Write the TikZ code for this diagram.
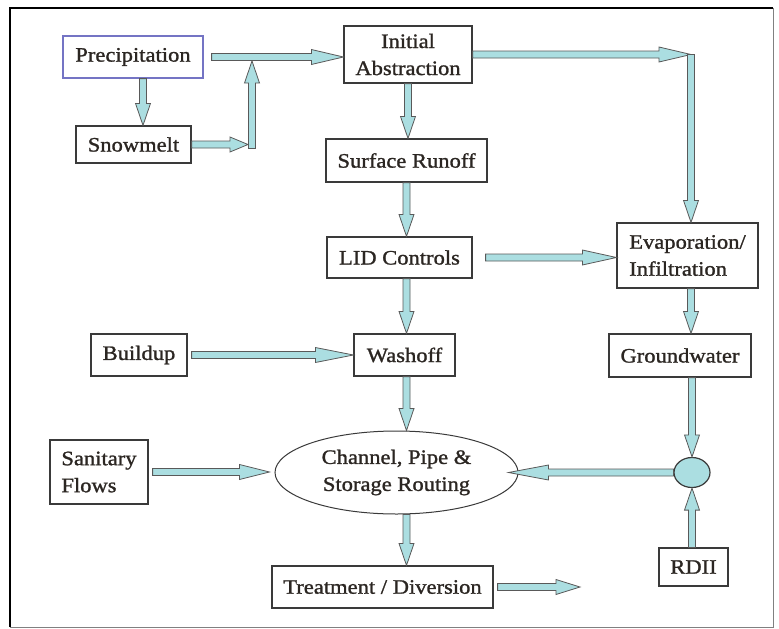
\documentclass[tikz,border=0pt]{standalone}
\usepackage{fontspec}
\setmainfont{Liberation Serif}[FakeStretch=1.1, FakeBold=1.2]
\usetikzlibrary{calc,shapes.geometric}
\definecolor{flowfill}{HTML}{ABDEE1}
\definecolor{edge}{HTML}{3A3A3A}
\definecolor{precblue}{HTML}{7474C4}
\definecolor{ink}{HTML}{2B2622}

\tikzset{
  box/.style={draw=edge, line width=1.2pt, fill=white, text=ink, inner sep=0pt,
    font=\fontsize{20.5}{27}\selectfont, align=center},
  flowline/.style={draw=black!65, line width=0.8pt, fill=flowfill},
}

% fat arrow from #2 to #3, head length #1
\newcommand{\flow}[3][22]{%
  \coordinate (fa) at (#2);
  \coordinate (fb) at (#3);
  \coordinate (fc) at ($(fb)!#1pt!(fa)$);
  \draw[flowline] ($(fa)!3.5pt!-90:(fb)$) -- ($(fc)!3.5pt!90:(fa)$) -- ($(fc)!7.5pt!90:(fa)$)
    -- (fb) -- ($(fc)!7.5pt!-90:(fa)$) -- ($(fc)!3.5pt!-90:(fa)$) -- ($(fa)!3.5pt!90:(fb)$) -- cycle;
}

\begin{document}
\begin{tikzpicture}[x=1pt, y=-1pt]
\useasboundingbox (0,0) rectangle (779,629);
% Frame
\draw[line width=2pt] (10,627) -- (10,8) -- (773,8);
\draw[line width=1pt, black!50] (773,8) -- (773,627) -- (10,627);

% Boxes
\node[box, draw=precblue, minimum width=140pt, minimum height=42pt] (prec) at (133,57) {Precipitation};
\node[box, minimum width=115pt, minimum height=37pt] (snow) at (133.5,144.5) {Snowmelt};
\node[box, minimum width=128pt, minimum height=57pt] (abstr) at (408,54.5) {Initial\\Abstraction};
\node[box, minimum width=161pt, minimum height=43pt] (runoff) at (406.5,160.5) {Surface Runoff};
\node[box, minimum width=145pt, minimum height=41pt] (lid) at (399.5,257.5) {LID Controls};
\node[box, minimum width=141pt, minimum height=65pt, align=left] (evap) at (687.5,255.5) {Evaporation/\\Infiltration};
\node[box, minimum width=96pt, minimum height=42pt] (build) at (139,355) {Buildup};
\node[box, minimum width=101pt, minimum height=42pt] (wash) at (404.5,355) {Washoff};
\node[box, minimum width=142pt, minimum height=43pt] (ground) at (680,355.5) {Groundwater};
\node[box, minimum width=98pt, minimum height=64pt, align=left] (sanit) at (99,472) {Sanitary\\Flows};
\node[box, ellipse, line width=1pt, minimum width=243pt, minimum height=83pt] (route) at (396.5,472.5) {Channel, Pipe \&\\Storage Routing};
\node[box, minimum width=221pt, minimum height=42pt] (treat) at (382.5,587) {Treatment / Diversion};
\node[box, ellipse, fill=flowfill, minimum width=36pt, minimum height=30pt] (junc) at (692,472.5) {};
\node[box, minimum width=69pt, minimum height=38pt] (rdii) at (693.5,567) {RDII};

% Joints
\coordinate (tee) at (252,57);
\coordinate (corner) at (691,54.5);
\coordinate (out) at (580,587);

% Arrows
\flow{$(prec.south)+(10,0)$}{$(snow.north)+(9.5,0)$}
\flow{$(snow.east -| tee)+(0,4)$}{$(tee)+(0,4)$}
\flow[18]{snow.east}{$(snow.east -| tee)+(-4,0)$}
\flow[32]{$(prec.east)+(8,0)$}{prec.east -| abstr.west}
\flow[32]{abstr.east}{corner}
\flow{corner}{corner |- evap.north}
\flow{abstr.south}{abstr.south |- runoff.north}
\flow{runoff.south}{runoff.south |- lid.north}
\flow[34]{$(lid.east)+(13,0)$}{lid.east -| evap.west}
\flow{lid.south -| runoff.south}{runoff.south |- wash.north}
\flow{evap.south -| corner}{corner |- ground.north}
\flow[38]{$(build.east)+(4,0)$}{build.east -| wash.west}
\flow{wash.south -| runoff.south}{runoff.south |- route.north}
\flow{ground.south -| junc}{junc.north}
\flow[40]{junc.west}{$(junc.west -| route.east)+(-10,0)$}
\flow{rdii.north -| junc}{junc.south}
\flow[30]{$(sanit.east)+(4,0)$}{$(sanit.east -| route.west)+(-5,0)$}
\flow{route.south -| runoff.south}{runoff.south |- treat.north}
\flow[24]{$(treat.east)+(4,0)$}{out}
\end{tikzpicture}
\end{document}
